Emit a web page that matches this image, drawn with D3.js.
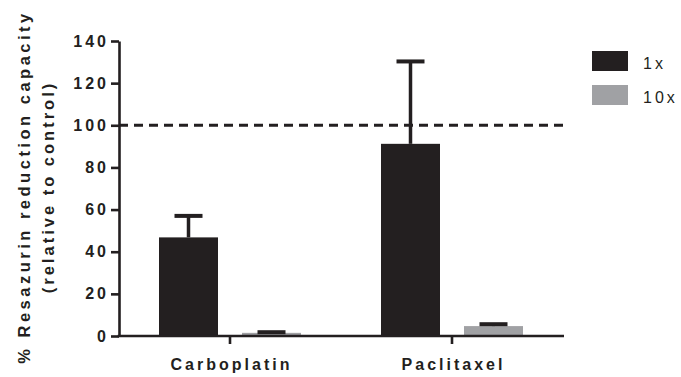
<!DOCTYPE html>
<html>
<head>
<meta charset="utf-8">
<script src="https://cdn.jsdelivr.net/npm/d3@7"></script>
<style>
  html, body { margin: 0; padding: 0; background: #fff; }
  svg { display: block; }
  text { font-family: "Liberation Sans", Arial, sans-serif; fill: #231f20; }
</style>
</head>
<body>
<svg id="chart" width="681" height="377"></svg>
<script>
// Drug treatments on the x axis
const categories = ["Carboplatin", "Paclitaxel"];
// Dose groups
const seriesNames = ["1x", "10x"];
// Mean resazurin reduction (% of control) per dose, one entry per drug
const values1x = [46.8, 91.2];
const values10x = [1.5, 4.7];
// Upper error (SD) per dose
const errors1x = [10.2, 39.1];
const errors10x = [0.3, 0.9];
// Y axis ticks
const yTicks = [0, 20, 40, 60, 80, 100, 120, 140];
const referenceLevel = 100;

const colors = { "1x": "#231f20", "10x": "#a0a1a4" };
const ink = "#231f20";

const svg = d3.select("#chart");

const x0 = d3.scaleBand().domain(categories).range([119, 563]).padding(0);
const x1 = d3.scaleBand().domain(seriesNames).range([-71, 71]).paddingInner(24 / 83);
const y = d3.scaleLinear().domain([0, 140]).range([336, 41]);

const rows = categories.map((c, i) => ({
  category: c,
  items: [
    { series: "1x", value: values1x[i], err: errors1x[i] },
    { series: "10x", value: values10x[i], err: errors10x[i] }
  ]
}));

// Bars
const groups = svg.append("g").selectAll("g").data(rows).join("g")
  .attr("transform", d => `translate(${x0(d.category) + x0.bandwidth() / 2},0)`);

groups.selectAll("rect").data(d => d.items).join("rect")
  .attr("x", d => x1(d.series))
  .attr("y", d => y(d.value))
  .attr("width", x1.bandwidth())
  .attr("height", d => y(0) - y(d.value))
  .attr("fill", d => colors[d.series]);

// Error bars (upper only)
const capHalf = 14;
groups.selectAll("line.stem").data(d => d.items).join("line")
  .attr("class", "stem")
  .attr("x1", d => x1(d.series) + x1.bandwidth() / 2)
  .attr("x2", d => x1(d.series) + x1.bandwidth() / 2)
  .attr("y1", d => y(d.value))
  .attr("y2", d => y(d.value + d.err))
  .attr("stroke", ink).attr("stroke-width", 3.5);
groups.selectAll("line.cap").data(d => d.items).join("line")
  .attr("class", "cap")
  .attr("x1", d => x1(d.series) + x1.bandwidth() / 2 - capHalf)
  .attr("x2", d => x1(d.series) + x1.bandwidth() / 2 + capHalf)
  .attr("y1", d => y(d.value + d.err))
  .attr("y2", d => y(d.value + d.err))
  .attr("stroke", ink).attr("stroke-width", 4);

// Reference line at 100 %
svg.append("line")
  .attr("x1", 119).attr("x2", 564)
  .attr("y1", y(referenceLevel)).attr("y2", y(referenceLevel))
  .attr("stroke", ink).attr("stroke-width", 3)
  .attr("stroke-dasharray", "9,6");

// Y axis
const yAxis = svg.append("g").attr("transform", "translate(119,0)")
  .call(d3.axisLeft(y).tickValues(yTicks).tickSize(8).tickSizeOuter(0).tickPadding(5));
yAxis.select(".domain").attr("stroke", ink).attr("stroke-width", 2.6);
yAxis.selectAll(".tick line").attr("stroke", ink).attr("stroke-width", 2.6);
yAxis.selectAll(".tick text")
  .attr("font-family", "Liberation Sans, Arial, sans-serif")
  .attr("font-size", 16).attr("font-weight", "bold")
  .attr("letter-spacing", "3px")
  .attr("fill", ink)
  .attr("dx", "3px");

// X axis
const xAxis = svg.append("g").attr("transform", `translate(0,${y(0)})`)
  .call(d3.axisBottom(x0).tickSize(8).tickSizeOuter(0).tickPadding(15));
xAxis.select(".domain").attr("stroke", ink).attr("stroke-width", 2.6)
  .attr("d", "M117.7,0H564");
xAxis.selectAll(".tick line").attr("stroke", ink).attr("stroke-width", 2.6);
xAxis.selectAll(".tick text")
  .attr("font-family", "Liberation Sans, Arial, sans-serif")
  .attr("font-size", 16).attr("font-weight", "bold")
  .attr("letter-spacing", "3px")
  .attr("fill", ink)
  .attr("dx", "1.5px");

// Y axis title, two lines
const titleLines = [
  { text: "% Resazurin reduction capacity", x: 30, spacing: 3.5 },
  { text: "(relative to control)", x: 54, spacing: 3 }
];
svg.append("g").selectAll("text").data(titleLines).join("text")
  .attr("transform", d => `translate(${d.x},${187}) rotate(-90)`)
  .attr("text-anchor", "middle")
  .attr("font-size", 16.5).attr("font-weight", "bold")
  .attr("letter-spacing", d => d.spacing + "px")
  .text(d => d.text);

// Legend
const legend = svg.append("g").selectAll("g").data(seriesNames).join("g")
  .attr("transform", (d, i) => `translate(592,${51 + i * 34})`);
legend.append("rect")
  .attr("width", 36).attr("height", 20)
  .attr("fill", d => colors[d]);
legend.append("text")
  .attr("x", 51).attr("y", 18)
  .attr("font-size", 16).attr("letter-spacing", "3px")
  .text(d => d);
</script>
</body>
</html>
